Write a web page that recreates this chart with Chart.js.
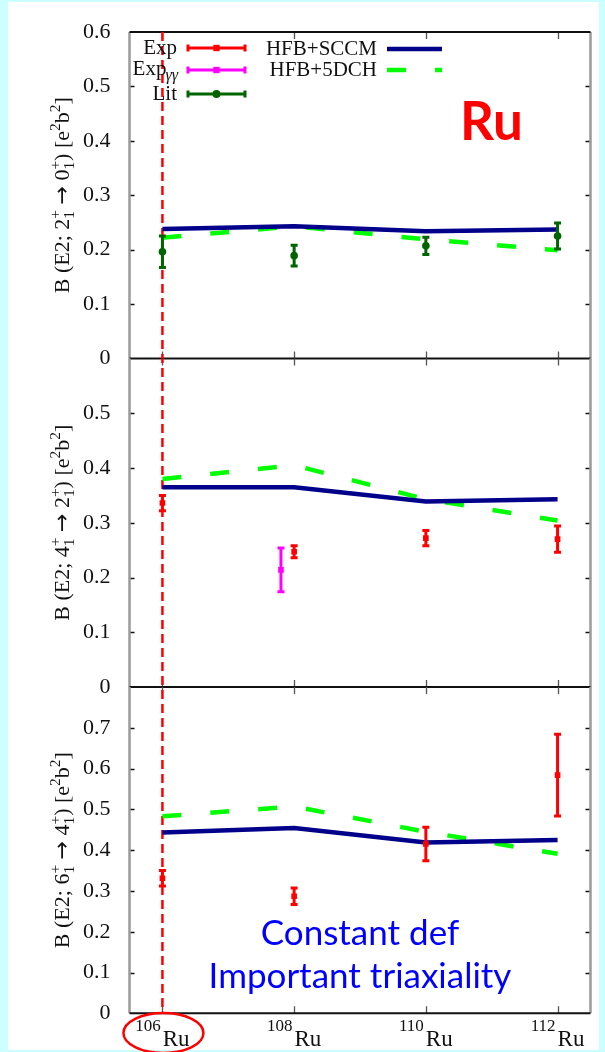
<!DOCTYPE html>
<html>
<head>
<meta charset="utf-8">
<script src="https://cdn.jsdelivr.net/npm/chart.js@4.4.0/dist/chart.umd.min.js"></script>
<style>
  html, body { margin: 0; padding: 0; }
  body { width: 605px; height: 1052px; background: #ccffff; position: relative; overflow: hidden; }
  #sheet { position: absolute; left: 8px; top: 2px; width: 591px; height: 1048px; background: #fff; }
  canvas { position: absolute; left: 0; top: 0; }
</style>
</head>
<body>
<div id="sheet"></div>
<canvas id="panel20" width="605" height="1052"></canvas>
<canvas id="panel42" width="605" height="1052"></canvas>
<canvas id="panel64" width="605" height="1052"></canvas>
<script>
// ---- nuclei on the x axis ----
const nuclei = [106, 108, 110, 112];
const massLabels = ["106", "108", "110", "112"];
const yMax = [0.6, 0.6, 0.8];

// ---- B(E2; 2+ -> 0+) ----
const sccm20 = [0.238, 0.243, 0.234, 0.237];
const dch20 = [0.222, 0.243, 0.219, 0.199];
const lit20 = [0.196, 0.189, 0.207, 0.225];
const lit20Err = [0.029, 0.019, 0.016, 0.024];

// ---- B(E2; 4+ -> 2+) ----
const sccm42 = [0.365, 0.365, 0.339, 0.343];
const dch42 = [0.380, 0.405, 0.343, 0.304];
const exp42 = [0.336, 0.247, 0.272, 0.270];
const exp42Err = [0.014, 0.011, 0.014, 0.024];
const expGGx = [107.8];
const expGG42 = [0.214];
const expGG42Err = [0.040];

// ---- B(E2; 6+ -> 4+) ----
const sccm64 = [0.443, 0.454, 0.419, 0.425];
const dch64 = [0.483, 0.507, 0.445, 0.391];
const exp64 = [0.331, 0.287, 0.415, 0.584];
const exp64Err = [0.019, 0.020, 0.041, 0.100];

const SERIF = "'Liberation Serif', 'Times New Roman', serif";
const SANS = "Lato, 'Noto Sans', sans-serif";
const ARROW_FONT = "'DejaVu Sans', sans-serif";
const RED = "#ff0000";
const MAGENTA = "#ff00ff";
const DKGREEN = "#006400";
const NAVY = "#00008b";
const LIME = "#00ff00";
const PAGE_H = 1052;
const AREA_LEFT = 129.5;
const AREA_RIGHT = 590.5;

// ===============================
// helpers
// ===============================
// text runs: {t, f} normal text, {sub, sup} stacked small indices
function richWidth(ctx, parts, size) {
  let w = 0;
  parts.forEach((p) => {
    if (p.t !== undefined) {
      ctx.font = `${size}px ${p.f || SERIF}`;
      w += ctx.measureText(p.t).width;
    } else {
      ctx.font = `${size * 0.7}px ${SERIF}`;
      w += Math.max(...[p.sub, p.sup].filter(Boolean).map((s) => ctx.measureText(s).width));
    }
  });
  return w;
}

function drawRich(ctx, parts, x, y, size) {
  parts.forEach((p) => {
    if (p.t !== undefined) {
      ctx.font = `${size}px ${p.f || SERIF}`;
      ctx.fillText(p.t, x, y);
      x += ctx.measureText(p.t).width;
    } else {
      ctx.font = `${size * 0.7}px ${SERIF}`;
      let w = 0;
      if (p.sup) { ctx.fillText(p.sup, x, y - size * 0.42); w = Math.max(w, ctx.measureText(p.sup).width); }
      if (p.sub) { ctx.fillText(p.sub, x, y + size * 0.22); w = Math.max(w, ctx.measureText(p.sub).width); }
      x += w;
    }
  });
}

function yTitle(ji, jf) {
  return [
    { t: "B (E2; " + ji }, { sub: "1", sup: "+" },
    { t: " " }, { t: "\u2192", f: ARROW_FONT }, { t: " " + jf }, { sub: "1", sup: "+" },
    { t: ") [e" }, { sup: "2" }, { t: "b" }, { sup: "2" }, { t: "]" },
  ];
}

function errorCap(ctx, px, top, bottom, half) {
  ctx.beginPath();
  ctx.moveTo(px, top); ctx.lineTo(px, bottom);
  ctx.moveTo(px - half, top); ctx.lineTo(px + half, top);
  ctx.moveTo(px - half, bottom); ctx.lineTo(px + half, bottom);
  ctx.stroke();
}

// ===============================
// plugins
// ===============================
const framePlugin = {
  id: "frame",
  beforeDatasetsDraw(chart, args, opts) {
    const { ctx, chartArea: a, scales: { x, y } } = chart;
    ctx.save();
    // inner y ticks
    ctx.strokeStyle = "#111";
    ctx.lineWidth = 1.3;
    y.ticks.forEach((t) => {
      if (t.value <= 0 || t.value >= y.max - 1e-9) return;
      const py = Math.round(y.getPixelForValue(t.value)) + 0.5;
      ctx.beginPath();
      ctx.moveTo(a.left, py); ctx.lineTo(a.left + 5, py);
      ctx.moveTo(a.right, py); ctx.lineTo(a.right - 5, py);
      ctx.stroke();
    });
    // x ticks from top and bottom
    ctx.strokeStyle = "#555";
    nuclei.forEach((n) => {
      const px = Math.round(x.getPixelForValue(n)) + 0.5;
      ctx.beginPath();
      ctx.moveTo(px, a.bottom); ctx.lineTo(px, a.bottom - 7);
      ctx.moveTo(px, a.top); ctx.lineTo(px, a.top + 7);
      ctx.stroke();
    });
    // side borders
    ctx.strokeStyle = "#9a9a9a";
    ctx.lineWidth = 2.5;
    ctx.beginPath();
    ctx.moveTo(a.left, a.top); ctx.lineTo(a.left, a.bottom);
    ctx.moveTo(a.right, a.top); ctx.lineTo(a.right, a.bottom);
    ctx.stroke();
    // zero line / top edge
    ctx.strokeStyle = "#111";
    ctx.lineWidth = 2;
    ctx.beginPath();
    ctx.moveTo(a.left, a.bottom); ctx.lineTo(a.right, a.bottom);
    if (opts.topEdge) { ctx.moveTo(a.left, a.top); ctx.lineTo(a.right, a.top); }
    ctx.stroke();
    // marker line through 106Ru
    const px = x.getPixelForValue(nuclei[0]);
    ctx.strokeStyle = RED;
    ctx.lineWidth = 2.5;
    ctx.setLineDash([9, 5]);
    ctx.lineDashOffset = (a.top - 32) % 14;
    ctx.beginPath();
    ctx.moveTo(px, a.top); ctx.lineTo(px, a.bottom);
    ctx.stroke();
    ctx.restore();
  },
  afterDraw(chart, args, opts) {
    const { ctx, chartArea: a } = chart;
    ctx.save();
    ctx.fillStyle = "#111";
    ctx.textAlign = "left";
    ctx.textBaseline = "alphabetic";
    const size = 22;
    const w = richWidth(ctx, opts.title, size);
    ctx.translate(62, (a.top + a.bottom) / 2);
    ctx.rotate(-Math.PI / 2);
    drawRich(ctx, opts.title, -w / 2, size * 0.34, size);
    ctx.restore();
  },
};

const errorBarPlugin = {
  id: "errorBars",
  afterDatasetsDraw(chart) {
    const { ctx, scales: { x, y } } = chart;
    ctx.save();
    ctx.lineWidth = 3;
    chart.data.datasets.forEach((ds) => {
      if (!ds.errors) return;
      ctx.strokeStyle = ds.borderColor;
      ds.data.forEach((p, i) => {
        const px = x.getPixelForValue(p.x);
        errorCap(ctx, px, y.getPixelForValue(p.y + ds.errors[i]), y.getPixelForValue(p.y - ds.errors[i]), 3.5);
      });
    });
    ctx.restore();
  },
};

// key of the top panel
const legendPlugin = {
  id: "keyBox",
  afterDraw(chart) {
    const ctx = chart.ctx;
    ctx.save();
    ctx.textBaseline = "middle";
    ctx.fillStyle = "#111";
    ctx.font = `21px ${SERIF}`;
    ctx.textAlign = "right";
    ctx.fillText("Exp", 177, 48);
    ctx.fillText("Lit", 177, 94);
    ctx.font = `italic 16px ${SERIF}`;
    const gw = ctx.measureText("\u03b3\u03b3").width;
    ctx.textAlign = "left";
    ctx.fillText("\u03b3\u03b3", 178 - gw, 76);
    ctx.font = `21px ${SERIF}`;
    ctx.textAlign = "right";
    ctx.fillText("Exp", 178 - gw + 1, 69);
    ctx.fillText("HFB+SCCM", 377, 49);
    ctx.fillText("HFB+5DCH", 377, 70);

    const keys = [
      { y: 48, color: RED, style: "rect", r: 4.5 },
      { y: 70, color: MAGENTA, style: "rect", r: 4.5 },
      { y: 94, color: DKGREEN, style: "circle", r: 4 },
    ];
    keys.forEach((k) => {
      ctx.strokeStyle = k.color;
      ctx.fillStyle = k.color;
      ctx.lineWidth = 3;
      ctx.beginPath();
      ctx.moveTo(188, k.y); ctx.lineTo(245, k.y);
      ctx.moveTo(188, k.y - 3.5); ctx.lineTo(188, k.y + 3.5);
      ctx.moveTo(245, k.y - 3.5); ctx.lineTo(245, k.y + 3.5);
      ctx.stroke();
      Chart.helpers.drawPoint(ctx, { pointStyle: k.style, radius: k.r, borderWidth: 0 }, 216.5, k.y);
    });

    ctx.lineWidth = 4.5;
    ctx.strokeStyle = NAVY;
    ctx.beginPath(); ctx.moveTo(387, 49); ctx.lineTo(442, 49); ctx.stroke();
    ctx.strokeStyle = LIME;
    ctx.setLineDash([19, 29]);
    ctx.beginPath(); ctx.moveTo(387, 70); ctx.lineTo(442, 70); ctx.stroke();
    ctx.setLineDash([]);

    ctx.fillStyle = RED;
    ctx.font = `bold 53px ${SANS}`;
    ctx.textAlign = "left";
    ctx.textBaseline = "alphabetic";
    ctx.fillText("Ru", 460, 140);
    ctx.restore();
  },
};

// isotope labels, circled 106Ru and the note of the lower panel
const bottomPlugin = {
  id: "bottomNotes",
  afterDraw(chart) {
    const { ctx, scales: { x } } = chart;
    ctx.save();
    ctx.fillStyle = "#111";
    ctx.textBaseline = "alphabetic";
    ctx.textAlign = "left";
    nuclei.forEach((n, i) => {
      ctx.font = `17px ${SERIF}`;
      const wm = ctx.measureText(massLabels[i]).width;
      ctx.font = `23px ${SERIF}`;
      const wr = ctx.measureText("Ru").width;
      const left = x.getPixelForValue(n) - (wm + 2 + wr) / 2;
      ctx.font = `17px ${SERIF}`;
      ctx.fillText(massLabels[i], left, 1031);
      ctx.font = `23px ${SERIF}`;
      ctx.fillText("Ru", left + wm + 2, 1046);
    });

    ctx.strokeStyle = RED;
    ctx.lineWidth = 2.5;
    ctx.beginPath();
    ctx.ellipse(x.getPixelForValue(nuclei[0]) + 1, 1033, 40, 20, 0, 0, Math.PI * 2);
    ctx.stroke();

    ctx.fillStyle = "#0000ff";
    ctx.font = `35px ${SANS}`;
    ctx.textAlign = "center";
    ctx.fillText("Constant def", 360, 945);
    ctx.fillText("Important triaxiality", 360, 988);
    ctx.restore();
  },
};

// ===============================
// panels
// ===============================
function buildPanel(id, cfg) {
  const pts = (xs, ys) => xs.map((x, i) => ({ x, y: ys[i] }));
  const datasets = cfg.measured.map((m) => ({
    label: m.label,
    data: pts(m.x, m.y),
    errors: m.err,
    showLine: false,
    pointStyle: m.style,
    pointRadius: m.radius,
    backgroundColor: m.color,
    borderColor: m.color,
    pointBorderWidth: 0,
  }));
  datasets.push({
    label: "HFB+SCCM",
    data: pts(nuclei, cfg.sccm),
    showLine: true,
    borderColor: NAVY,
    borderWidth: 4.5,
    pointRadius: 0,
    tension: 0,
  });
  datasets.push({
    label: "HFB+5DCH",
    data: pts(nuclei, cfg.dch),
    showLine: true,
    borderColor: LIME,
    borderWidth: 4.5,
    borderDash: [19, 29],
    pointRadius: 0,
    tension: 0,
  });

  return new Chart(document.getElementById(id), {
    type: "scatter",
    data: { datasets },
    options: {
      responsive: false,
      animation: false,
      devicePixelRatio: 1,
      layout: {
        padding: { left: 0, right: 605 - AREA_RIGHT, top: cfg.top, bottom: PAGE_H - cfg.bottom },
      },
      plugins: {
        legend: { display: false },
        tooltip: { enabled: false },
        frame: { title: cfg.title, topEdge: cfg.topEdge },
      },
      scales: {
        x: { type: "linear", display: false, min: 105.5, max: 112.5 },
        y: {
          min: 0,
          max: cfg.max,
          afterFit: (s) => { s.width = AREA_LEFT; },
          grid: { display: false },
          border: { display: false },
          ticks: {
            stepSize: 0.1,
            padding: 11,
            color: "#111",
            font: { family: SERIF, size: 22 },
            callback: (v) => {
              if (cfg.hideTop && v >= cfg.max - 1e-9) return "";
              return v === 0 ? "0" : v.toFixed(1);
            },
          },
        },
      },
    },
    plugins: [framePlugin, errorBarPlugin].concat(cfg.extra || []),
  });
}

buildPanel("panel20", {
  top: 32, bottom: 358.5, max: yMax[0], topEdge: true, hideTop: false,
  title: yTitle("2", "0"),
  sccm: sccm20, dch: dch20,
  measured: [
    { label: "Lit", x: nuclei, y: lit20, err: lit20Err, color: DKGREEN, style: "circle", radius: 3.8 },
  ],
  extra: [legendPlugin],
});

buildPanel("panel42", {
  top: 358.5, bottom: 687, max: yMax[1], topEdge: false, hideTop: true,
  title: yTitle("4", "2"),
  sccm: sccm42, dch: dch42,
  measured: [
    { label: "Exp", x: nuclei, y: exp42, err: exp42Err, color: RED, style: "rect", radius: 4 },
    { label: "Exp\u03b3\u03b3", x: expGGx, y: expGG42, err: expGG42Err, color: MAGENTA, style: "rect", radius: 4 },
  ],
});

buildPanel("panel64", {
  top: 687, bottom: 1013.3, max: yMax[2], topEdge: false, hideTop: true,
  title: yTitle("6", "4"),
  sccm: sccm64, dch: dch64,
  measured: [
    { label: "Exp", x: nuclei, y: exp64, err: exp64Err, color: RED, style: "rect", radius: 4 },
  ],
  extra: [bottomPlugin],
});
</script>
</body>
</html>
